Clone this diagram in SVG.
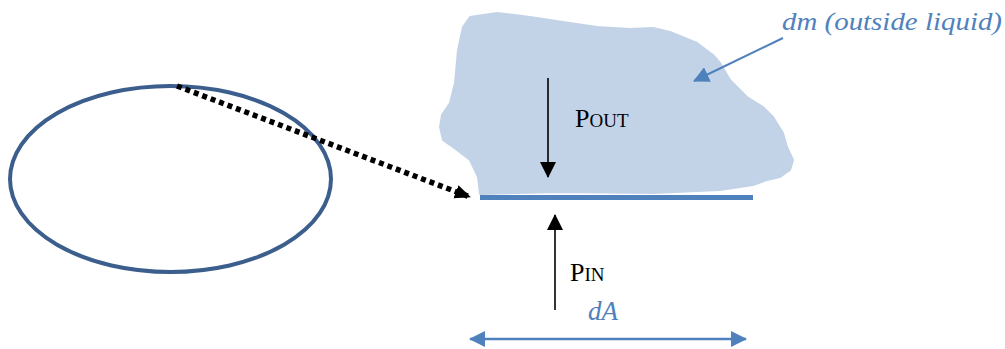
<svg xmlns="http://www.w3.org/2000/svg" width="1005" height="349" viewBox="0 0 1005 349">
  <style>
    .lbl { fill: #000; }
    .blue { font-style: italic; fill: #4f81bd; }
    .force { stroke: #000; stroke-width: 1.6; fill: none; }
  </style>
  <defs>
    <marker id="ahForce" viewBox="0 0 16 16" refX="15" refY="8" markerWidth="16" markerHeight="16" markerUnits="userSpaceOnUse" orient="auto">
      <path d="M0,0 L16,8 L0,16 Z" fill="#000"/>
    </marker>
    <marker id="ahDot" viewBox="0 0 16 16" refX="15" refY="8" markerWidth="16" markerHeight="16" markerUnits="userSpaceOnUse" orient="auto">
      <path d="M0,1 L16,8 L0,15 Z" fill="#000"/>
    </marker>
    <marker id="ahBlue" viewBox="0 0 16 16" refX="15" refY="8" markerWidth="16" markerHeight="16" markerUnits="userSpaceOnUse" orient="auto">
      <path d="M0,0 L16,8 L0,16 Z" fill="#4f81bd"/>
    </marker>
    <marker id="ahBlueStart" viewBox="0 0 16 16" refX="1" refY="8" markerWidth="16" markerHeight="16" markerUnits="userSpaceOnUse" orient="auto">
      <path d="M16,0 L0,8 L16,16 Z" fill="#4f81bd"/>
    </marker>
    <filter id="shadow" x="-10%" y="-200%" width="120%" height="500%">
      <feGaussianBlur stdDeviation="1.5"/>
    </filter>
  </defs>

  <g id="liquid">
    <path d="M470,17 L497,13 L530,17 L563,22 L597,27 L630,29 L653,28 L670,32 L697,43 L713,55 L720,63 L730,80 L747,97 L763,107 L773,117 L783,133 L787,147 L793,160 L790,170 L780,177 L767,180 L753,185 L720,190 L653,193 L560,192 L480,194 L478,177 L470,160 L457,150 L443,140 L440,127 L442,115 L450,103 L455,83 L458,50 L463,27 Z" fill="#c3d3e7" stroke="#c3d3e7" stroke-width="2" stroke-linejoin="round"/>
  </g>

  <g id="surface">
    <line x1="481" y1="200" x2="753" y2="200" stroke="#9a9a9a" stroke-width="4" filter="url(#shadow)" opacity="0.7"/>
    <line x1="480" y1="197.5" x2="753" y2="197.5" stroke="#4f81bd" stroke-width="5"/>
  </g>

  <g id="bubble">
    <ellipse cx="170.5" cy="179" rx="160.5" ry="93" fill="none" stroke="#3b5e8d" stroke-width="4"/>
  </g>

  <g id="connectors">
    <line x1="177" y1="86" x2="470" y2="197" stroke="#000" stroke-width="5.5" stroke-dasharray="5 4" marker-end="url(#ahDot)"/>
    <line class="force" x1="548" y1="78" x2="548" y2="177" marker-end="url(#ahForce)"/>
    <line class="force" x1="555" y1="310" x2="555" y2="215" marker-end="url(#ahForce)"/>
    <line x1="783" y1="38" x2="694" y2="81" stroke="#4f81bd" stroke-width="2" marker-end="url(#ahBlue)"/>
    <line x1="470" y1="339" x2="746" y2="339" stroke="#4f81bd" stroke-width="2.5" marker-start="url(#ahBlueStart)" marker-end="url(#ahBlue)"/>
  </g>

  <g id="labels" font-family="'Liberation Serif', 'DejaVu Serif', 'Times New Roman', Times, serif">
    <text class="lbl" x="575" y="127" font-size="26">P<tspan font-size="19">OUT</tspan></text>
    <text class="lbl" x="570" y="281" font-size="26">P<tspan font-size="19">IN</tspan></text>
    <text class="blue" x="782" y="30" font-size="26" textLength="220" lengthAdjust="spacingAndGlyphs">dm (outside liquid)</text>
    <text class="blue" x="588" y="320" font-size="27">dA</text>
  </g>
</svg>
